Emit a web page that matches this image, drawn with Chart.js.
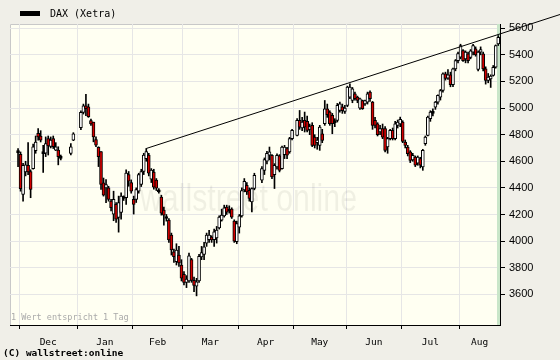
<!DOCTYPE html>
<html>
<head>
<meta charset="utf-8">
<title>DAX (Xetra)</title>
<script src="https://cdn.jsdelivr.net/npm/chart.js@4.4.0/dist/chart.umd.min.js"></script>
<style>
  html, body { margin: 0; padding: 0; background: #f0efe8; }
  #wrap { width: 560px; height: 360px; }
</style>
</head>
<body>
<div id="wrap"><canvas id="myChart" width="560" height="360"></canvas></div>
<script>
// trading days (Xetra), one candle per day
const tradeDays = [
  "2008-11-28","2008-12-01","2008-12-02","2008-12-03","2008-12-04","2008-12-05",
  "2008-12-08","2008-12-09","2008-12-10","2008-12-11","2008-12-12",
  "2008-12-15","2008-12-16","2008-12-17","2008-12-18","2008-12-19",
  "2008-12-22","2008-12-23","2008-12-29","2008-12-30",
  "2009-01-02","2009-01-05","2009-01-06","2009-01-07","2009-01-08","2009-01-09",
  "2009-01-12","2009-01-13","2009-01-14","2009-01-15","2009-01-16",
  "2009-01-19","2009-01-20","2009-01-21","2009-01-22","2009-01-23",
  "2009-01-26","2009-01-27","2009-01-28","2009-01-29","2009-01-30",
  "2009-02-02","2009-02-03","2009-02-04","2009-02-05","2009-02-06",
  "2009-02-09","2009-02-10","2009-02-11","2009-02-12","2009-02-13",
  "2009-02-16","2009-02-17","2009-02-18","2009-02-19","2009-02-20",
  "2009-02-23","2009-02-24","2009-02-25","2009-02-26","2009-02-27",
  "2009-03-02","2009-03-03","2009-03-04","2009-03-05","2009-03-06",
  "2009-03-09","2009-03-10","2009-03-11","2009-03-12","2009-03-13",
  "2009-03-16","2009-03-17","2009-03-18","2009-03-19","2009-03-20",
  "2009-03-23","2009-03-24","2009-03-25","2009-03-26","2009-03-27",
  "2009-03-30","2009-03-31","2009-04-01","2009-04-02","2009-04-03",
  "2009-04-06","2009-04-07","2009-04-08","2009-04-09",
  "2009-04-14","2009-04-15","2009-04-16","2009-04-17",
  "2009-04-20","2009-04-21","2009-04-22","2009-04-23","2009-04-24",
  "2009-04-27","2009-04-28","2009-04-29","2009-04-30",
  "2009-05-04","2009-05-05","2009-05-06","2009-05-07","2009-05-08",
  "2009-05-11","2009-05-12","2009-05-13","2009-05-14","2009-05-15",
  "2009-05-18","2009-05-19","2009-05-20","2009-05-21","2009-05-22",
  "2009-05-25","2009-05-26","2009-05-27","2009-05-28","2009-05-29",
  "2009-06-01","2009-06-02","2009-06-03","2009-06-04","2009-06-05",
  "2009-06-08","2009-06-09","2009-06-10","2009-06-11","2009-06-12",
  "2009-06-15","2009-06-16","2009-06-17","2009-06-18","2009-06-19",
  "2009-06-22","2009-06-23","2009-06-24","2009-06-25","2009-06-26",
  "2009-06-29","2009-06-30","2009-07-01","2009-07-02","2009-07-03",
  "2009-07-06","2009-07-07","2009-07-08","2009-07-09","2009-07-10",
  "2009-07-13","2009-07-14","2009-07-15","2009-07-16","2009-07-17",
  "2009-07-20","2009-07-21","2009-07-22","2009-07-23","2009-07-24",
  "2009-07-27","2009-07-28","2009-07-29","2009-07-30","2009-07-31",
  "2009-08-03","2009-08-04","2009-08-05","2009-08-06","2009-08-07",
  "2009-08-10","2009-08-11","2009-08-12","2009-08-13","2009-08-14",
  "2009-08-17","2009-08-18","2009-08-19","2009-08-20","2009-08-21",
  "2009-08-24"
];
const openVals = [
  4665,4652,4350,4520,4570,4523, 4545,4680,4810,4790,4658, 4660,4770,4712,4770,4684, 4684,4622,4659,4758,
  4852,4968,5017,5010,4906,4894, 4763,4704,4672,4437,4400, 4400,4301,4203,4276,4178, 4215,4320,4326,4499,4440,
  4314,4314,4375,4425,4523, 4620,4646,4466,4518,4458, 4385,4330,4233,4185,4158, 4045,3920,3845,3895,3820,
  3750,3690,3700,3860,3705, 3660,3700,3880,3900,3985, 4010,4030,4010,4023,4098, 4158,4190,4255,4225,4240,
  4150,3995,4105,4190,4385, 4420,4382,4295,4395, 4457,4532,4600,4645, 4645,4500,4557,4640,4545, 4650,4695,4670,4770,
  4795,4907,4850,4907,4900, 4840,4870,4782,4740,4720, 4807,4882,4995,4970,4945, 4890,4907,4982,5010,4975,
  5020,5082,5057,5107,5082, 5000,5057,5032,5045,5120, 5045,4907,4882,4820,4845, 4845,4707,4770,4832,4770,
  4870,4880,4895,4745,4707, 4670,4610,4632,4585,4620, 4557,4732,4795,4920,4975, 5007,5045,5082,5132,5257,
  5225,5250,5175,5295,5357, 5382,5432,5370,5407,5380, 5420,5445,5290,5420,5407, 5295,5207,5220,5245,5307,
  5482
];
const highVals = [
  4696,4670,4585,4600,4740,4536, 4730,4790,4845,4830,4720, 4783,4790,4783,4790,4740, 4709,4647,4733,4815,
  4980,5030,5104,5030,4918,4894, 4783,4709,4672,4474,4462, 4412,4314,4375,4289,4338, 4363,4340,4536,4523,4460,
  4338,4400,4510,4540,4660, 4696,4660,4545,4540,4470, 4395,4345,4255,4200,4170, 4060,3940,3980,3960,3860,
  3770,3740,3910,3870,3730, 3720,3900,3960,3990,4060, 4080,4040,4090,4110,4190, 4240,4270,4270,4265,4250,
  4160,4150,4200,4400,4470, 4440,4400,4400,4510, 4560,4625,4675,4707, 4650,4582,4655,4650,4715, 4720,4705,4780,4840,
  4920,4982,4930,4970,4940, 4880,4890,4800,4780,4870, 4840,5057,5030,4980,4960, 4920,5035,5045,5030,5020,
  5165,5182,5155,5120,5090, 5075,5060,5060,5120,5130, 5050,4930,4890,4870,4880, 4860,4780,4840,4850,4900,
  4910,4932,4905,4760,4720, 4680,4660,4640,4640,4630, 4690,4790,4940,4980,4995, 5050,5100,5140,5265,5270,
  5290,5270,5300,5365,5420, 5480,5440,5430,5420,5440, 5480,5460,5430,5460,5420, 5310,5260,5250,5320,5475,
  5545
];
const lowVals = [
  4560,4375,4300,4490,4500,4326, 4540,4660,4758,4745,4516, 4635,4647,4700,4696,4680, 4573,4610,4647,4755,
  4837,4955,4943,4930,4869,4746, 4709,4560,4388,4338,4289, 4300,4227,4153,4141,4067, 4165,4305,4276,4412,4360,
  4203,4290,4360,4410,4500, 4600,4490,4440,4390,4380, 4360,4195,4120,4150,3990, 3895,3840,3820,3810,3700,
  3670,3650,3690,3690,3620, 3588,3690,3860,3860,3960, 3990,3990,3960,3985,4090, 4150,4180,4200,4210,4170,
  3990,3980,4060,4180,4370, 4350,4300,4220,4385, 4440,4500,4580,4610, 4470,4395,4540,4520,4540, 4620,4620,4660,4760,
  4790,4840,4830,4820,4820, 4800,4710,4700,4690,4682, 4740,4870,4930,4870,4807, 4860,4895,4970,4960,4960,
  5010,5070,5040,5060,5040, 4990,4990,5020,5030,5050, 4840,4850,4790,4800,4770, 4670,4660,4760,4760,4760,
  4850,4860,4740,4700,4640, 4590,4600,4560,4570,4550, 4532,4720,4790,4900,4940, 4990,5030,5060,5120,5210,
  5215,5160,5160,5280,5340, 5370,5350,5340,5340,5370, 5400,5390,5280,5400,5280, 5180,5190,5155,5240,5300,
  5470
];
const closeVals = [
  4680,4394,4570,4573,4520,4388, 4709,4745,4783,4758,4673, 4733,4715,4760,4709,4709, 4635,4637,4709,4807,
  4968,5017,4995,4936,4881,4783, 4721,4635,4425,4345,4425, 4314,4252,4314,4165,4289, 4338,4335,4511,4450,4375,
  4276,4388,4499,4523,4647, 4672,4511,4533,4406,4398, 4370,4210,4195,4170,4008, 3933,3882,3933,3835,3722,
  3690,3715,3889,3705,3666, 3693,3886,3914,3956,4045, 4045,4008,4070,4083,4180, 4195,4250,4218,4240,4180,
  4000,4132,4190,4380,4450, 4370,4320,4395,4495, 4545,4612,4660,4670, 4482,4570,4645,4532,4707, 4707,4645,4770,4832,
  4907,4857,4895,4857,4832, 4860,4720,4720,4760,4857, 4757,4995,4950,4882,4882, 4905,5020,5032,4980,5000,
  5157,5157,5145,5070,5057, 5070,4995,5057,5107,5070, 4870,4870,4800,4845,4782, 4682,4770,4832,4770,4882,
  4895,4915,4750,4720,4657, 4607,4645,4570,4632,4570, 4682,4782,4932,4970,4960, 5045,5095,5132,5257,5222,
  5250,5175,5295,5357,5410, 5470,5357,5420,5357,5430, 5470,5400,5420,5440,5295, 5207,5232,5240,5307,5470,
  5532
];

// month boundaries and axis labels
const monthStarts = ["2008-12-01","2009-01-01","2009-02-01","2009-03-01","2009-04-01",
                     "2009-05-01","2009-06-01","2009-07-01","2009-08-01"];
const monthLabels = ["Dec","Jan","Feb","Mar","Apr","May","Jun","Jul","Aug"];
const yTicks = [3600,3800,4000,4200,4400,4600,4800,5000,5200,5400,5600];

// resistance line
const trendDays = ["2009-02-09","2009-09-28"];
const trendVals = [4696, 5706];

const xMin = -3.7, xMax = 191.2;
const yMin = 3369, yMax = 5632;

// index of weekday counted from 1 Dec 2008 (weekends skipped)
const base = Date.UTC(2008, 11, 1);
function dayIndex(s) {
  const p = s.split("-");
  const d = Math.round((Date.UTC(+p[0], +p[1] - 1, +p[2]) - base) / 86400000);
  const w = Math.floor(d / 7);
  return w * 5 + Math.min(d - w * 7, 5);
}

const monthIdx = monthStarts.map(dayIndex);
const monthMid = monthIdx.map((v, i) => (v + (i < monthIdx.length - 1 ? monthIdx[i + 1] : xMax)) / 2);

const wickData = tradeDays.map((d, i) => ({ x: dayIndex(d) + 0.5, y: [lowVals[i], highVals[i]] }));
const bodyData = tradeDays.map((d, i) => ({ x: dayIndex(d) + 0.5, y: [openVals[i], closeVals[i]] }));
const bodyColors = tradeDays.map((d, i) => {
  const diff = closeVals[i] - openVals[i];
  if (Math.abs(diff) <= 15) return "#000000";
  return diff > 0 ? "#ffffff" : "#d40000";
});
const trendData = trendDays.map((d, i) => ({ x: dayIndex(d) + 0.5, y: trendVals[i] }));

const monoFont = "'DejaVu Sans Mono', monospace";

const decorations = {
  id: "decorations",
  beforeDraw(chart) {
    const { ctx, chartArea: a } = chart;
    ctx.save();
    ctx.fillStyle = "#f0efe8";
    ctx.fillRect(0, 0, chart.width, chart.height);
    ctx.fillStyle = "#fffff2";
    ctx.fillRect(a.left, a.top, a.right - a.left, a.bottom - a.top);
    ctx.strokeStyle = "#c8c8c8";
    ctx.lineWidth = 1;
    ctx.beginPath();
    ctx.moveTo(a.left + 0.5, a.bottom);
    ctx.lineTo(a.left + 0.5, a.top + 0.5);
    ctx.lineTo(a.right, a.top + 0.5);
    ctx.stroke();
    ctx.restore();
  },
  beforeDatasetsDraw(chart) {
    const { ctx, chartArea: a } = chart;
    ctx.save();
    // watermark
    const txt = "wallstreet online";
    ctx.font = "38px 'Liberation Sans', sans-serif";
    const w = ctx.measureText(txt).width;
    ctx.translate(140, 211);
    ctx.scale(217 / w, 1);
    ctx.fillStyle = "rgba(0,0,0,0.06)";
    ctx.fillText(txt, 0, 0);
    ctx.restore();
    // latest value marker band
    ctx.save();
    ctx.fillStyle = "#c9e6c9";
    ctx.fillRect(a.right - 3, a.top, 3, a.bottom - a.top);
    ctx.restore();
  },
  afterDraw(chart) {
    const { ctx, chartArea: a } = chart;
    ctx.save();
    ctx.fillStyle = "#000";
    ctx.fillRect(20, 11, 20, 5);
    ctx.font = "10px " + monoFont;
    ctx.textBaseline = "middle";
    ctx.fillText("DAX (Xetra)", 50, 14);
    ctx.textBaseline = "alphabetic";
    ctx.fillStyle = "#aaaaaa";
    ctx.font = "8.5px " + monoFont;
    ctx.fillText("1 Wert entspricht 1 Tag", a.left + 1, a.bottom - 5);
    ctx.fillStyle = "#000";
    ctx.font = "bold 9.5px " + monoFont;
    ctx.fillText("(C) wallstreet:online", 3, 356);
    ctx.restore();
  }
};

const chart = new Chart(document.getElementById("myChart").getContext("2d"), {
  type: "bar",
  data: {
    datasets: [
      {
        type: "line",
        label: "Trend",
        data: trendData,
        borderColor: "#000",
        borderWidth: 1,
        pointRadius: 0,
        tension: 0,
        clip: false,
        order: 1
      },
      {
        label: "DAX (Xetra)",
        data: bodyData,
        backgroundColor: bodyColors,
        borderColor: "#000",
        borderWidth: 1,
        borderSkipped: false,
        barThickness: 3,
        grouped: false,
        order: 2
      },
      {
        label: "wick",
        data: wickData,
        backgroundColor: "#000",
        borderWidth: 0,
        barThickness: 1,
        grouped: false,
        order: 3
      }
    ]
  },
  options: {
    responsive: false,
    animation: false,
    events: [],
    layout: { padding: { left: 10, top: 24, right: 0, bottom: 0 } },
    plugins: { legend: { display: false }, tooltip: { enabled: false } },
    scales: {
      x: {
        type: "linear",
        position: "bottom",
        min: xMin,
        max: xMax,
        offset: false,
        afterBuildTicks: (s) => { s.ticks = monthIdx.map((v) => ({ value: v })); },
        ticks: { display: false },
        grid: { color: "#e6e6e6", tickColor: "#000", tickLength: 4, offset: false },
        border: { color: "#000" },
        afterFit: (s) => { s.height = 5; }
      },
      xm: {
        type: "linear",
        position: "bottom",
        min: xMin,
        max: xMax,
        offset: false,
        afterBuildTicks: (s) => { s.ticks = monthMid.map((v) => ({ value: v })); },
        ticks: {
          callback: (v, i) => monthLabels[i],
          autoSkip: false,
          maxRotation: 0,
          padding: 7,
          color: "#000",
          font: { family: "DejaVu Sans Mono", size: 9.5 }
        },
        grid: { display: false, drawTicks: false },
        border: { display: false },
        afterFit: (s) => { s.height = 30; }
      },
      y: {
        position: "right",
        min: yMin,
        max: yMax,
        afterBuildTicks: (s) => { s.ticks = yTicks.map((v) => ({ value: v })); },
        ticks: {
          padding: 4,
          color: "#000",
          font: { family: "Liberation Sans", size: 11 },
          callback: (v) => String(v)
        },
        grid: { color: "#e6e6e6", tickColor: "#000", tickLength: 5 },
        border: { color: "#000" },
        afterFit: (s) => { s.width = 60; }
      }
    }
  },
  plugins: [decorations]
});
</script>
</body>
</html>
